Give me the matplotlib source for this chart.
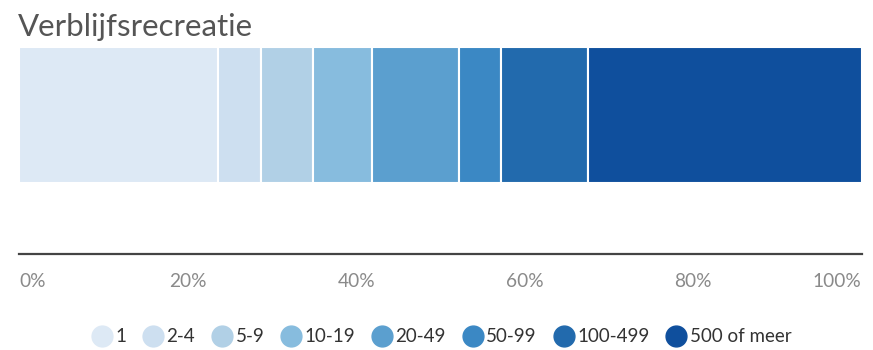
import matplotlib.pyplot as plt
from matplotlib.lines import Line2D

# Aandeel per grootteklasse (in %)
categories = ["1", "2-4", "5-9", "10-19", "20-49", "50-99", "100-499", "500 of meer"]
shares = [23.6, 5.1, 6.2, 7.0, 10.3, 5.0, 10.3, 32.5]
colors = ["#dde9f5", "#cddff0", "#b1d0e6", "#87bcde", "#5b9fcf", "#3b88c4", "#226aad", "#0f4f9d"]
tick_values = [0, 20, 40, 60, 80, 100]
tick_labels = ["0%", "20%", "40%", "60%", "80%", "100%"]
title = "Verblijfsrecreatie"

plt.rcParams["font.family"] = ["Lato", "DejaVu Sans"]

fig = plt.figure(figsize=(8.73, 3.5), dpi=100)
ax = fig.add_axes([19.3 / 873, 96 / 350, 842.4 / 873, 208 / 350])

left = 0
for cat, val, col in zip(categories, shares, colors):
    ax.barh(0.668, val, left=left, height=0.657, color=col, edgecolor="white", linewidth=1.5)
    left += val

ax.set_xlim(0, 100)
ax.set_ylim(0, 1)
ax.set_yticks([])
for s in ["top", "left", "right"]:
    ax.spines[s].set_visible(False)
ax.spines["bottom"].set_color("#444444")
ax.spines["bottom"].set_linewidth(1.6)

ax.set_xticks(tick_values)
ax.set_xticklabels(tick_labels, fontsize=13.8, color="#8a8a8a")
ax.tick_params(axis="x", length=0, pad=14)
labels = ax.get_xticklabels()
labels[0].set_ha("left")
labels[-1].set_ha("right")

fig.text(18 / 873, 1 - 36 / 350, title, fontsize=22.5,
         color="#555555", va="baseline", ha="left")

handles = [Line2D([0], [0], marker="o", linestyle="none", markersize=15,
                  markerfacecolor=c, markeredgecolor=c) for c in colors]
fig.legend(handles, categories, loc="center", bbox_to_anchor=(442 / 873, 1 - 337 / 350),
           ncol=len(categories), frameon=False, fontsize=13.5, handlelength=1.0,
           handletextpad=0.2, columnspacing=0.95, labelcolor="#333333")

fig.savefig("out.png", dpi=100)
